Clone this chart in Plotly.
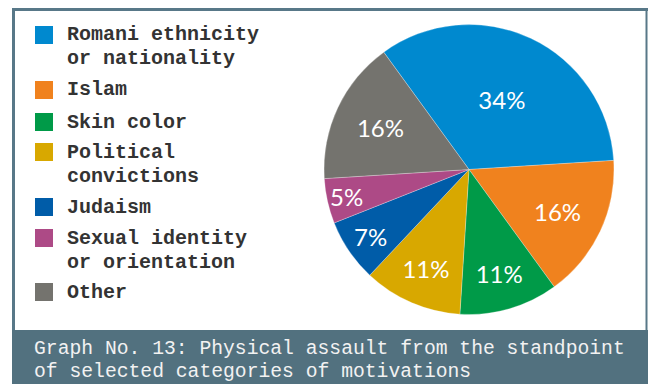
import plotly.graph_objects as go

# Motivation categories and their share of physical assaults (%)
categories = [
    "Romani ethnicity<br>or nationality",
    "Islam",
    "Skin color",
    "Political<br>convictions",
    "Judaism",
    "Sexual identity<br>or orientation",
    "Other",
]
shares = [34, 16, 11, 11, 7, 5, 16]
colors = ["#0089cf", "#f0821e", "#009a48", "#d8a800", "#005ca8", "#ad4a86", "#74736e"]

caption_lines = [
    "Graph No. 13: Physical assault from the standpoint",
    "of selected categories of motivations",
]

W, H = 648, 386
FRAME = "#587888"
BAND = "#52717f"
MONO = "Courier New, Nimbus Mono PS, FreeMono, Liberation Mono, monospace"


def px(x):
    return x / W


def py(y):
    return 1 - y / H


fig = go.Figure()

# Pie centred at (469, 169.5) with radius 145 px
cx, cy, r = 469, 169.5, 145
fig.add_trace(go.Pie(
    labels=[c.replace("<br>", " ") for c in categories],
    values=shares,
    marker=dict(colors=colors, line=dict(color="rgba(255,255,255,0.45)", width=0.6)),
    sort=False,
    direction="clockwise",
    rotation=-36,
    texttemplate="%{value}%",
    textposition="inside",
    insidetextorientation="horizontal",
    textfont=dict(family="Lato", size=24, color="white"),
    hoverinfo="label+percent",
    showlegend=False,
    domain=dict(x=[px(cx - r), px(cx + r)], y=[py(cy + r), py(cy - r)]),
))

shapes = []
# Frame: top, left and right borders
shapes.append(dict(type="rect", xref="paper", yref="paper", x0=px(12), x1=px(648),
                   y0=py(11), y1=py(8), fillcolor=FRAME, line=dict(width=0), layer="above"))
shapes.append(dict(type="rect", xref="paper", yref="paper", x0=px(12), x1=px(15),
                   y0=py(330), y1=py(8), fillcolor=FRAME, line=dict(width=0), layer="above"))
shapes.append(dict(type="rect", xref="paper", yref="paper", x0=px(645.5), x1=px(647.5),
                   y0=py(330), y1=py(8), fillcolor=FRAME, line=dict(width=0), layer="above"))
# Caption band
shapes.append(dict(type="rect", xref="paper", yref="paper", x0=px(12), x1=px(648),
                   y0=py(384), y1=py(330), fillcolor=BAND, line=dict(width=0), layer="above"))

annotations = []
# Legend: coloured squares with labels
first_line_y = [35, 90, 122, 152, 207, 238, 292]
line_h = 24
for cat, col, yc in zip(categories, colors, first_line_y):
    shapes.append(dict(type="rect", xref="paper", yref="paper",
                       x0=px(35), x1=px(53), y0=py(yc + 9), y1=py(yc - 9),
                       fillcolor=col, line=dict(width=0)))
    for i, part in enumerate(cat.split("<br>")):
        annotations.append(dict(
            x=px(65), y=py(yc + i * line_h), xref="paper", yref="paper",
            xanchor="left", yanchor="middle", showarrow=False, text=part,
            font=dict(family=MONO, size=20, color="#333333", weight="bold"),
        ))

# Caption text
for i, line in enumerate(caption_lines):
    annotations.append(dict(
        x=px(32), y=py(349 + i * 23), xref="paper", yref="paper",
        xanchor="left", yanchor="middle", showarrow=False, text=line,
        font=dict(family=MONO, size=19.7, color="#f2f2f2"),
    ))

fig.update_layout(
    width=W, height=H,
    margin=dict(l=0, r=0, t=0, b=0),
    paper_bgcolor="white",
    plot_bgcolor="white",
    uniformtext=dict(mode="show", minsize=24),
    shapes=shapes,
    annotations=annotations,
)

fig.write_html("out.html")
